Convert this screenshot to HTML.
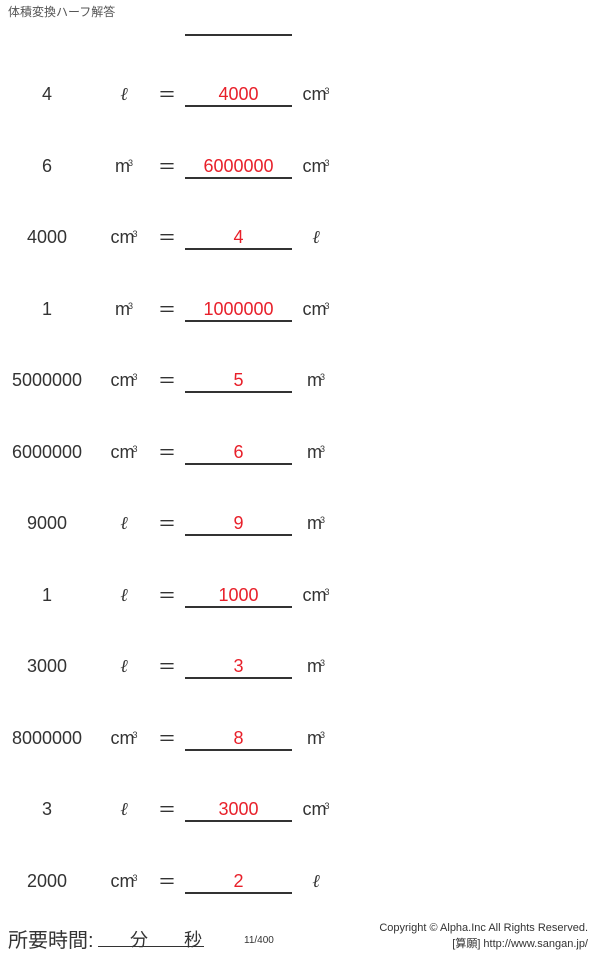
<!DOCTYPE html>
<html><head><meta charset="utf-8"><style>
body{margin:0;width:600px;height:954px;background:#fff;position:relative;font-family:"Liberation Sans","Noto Sans CJK JP",sans-serif;color:#333;overflow:hidden}
.t{position:absolute;font-size:18px;line-height:20px;text-align:center;white-space:nowrap}
.n{left:0;width:94px}
.u{left:100px;width:48px}
.e{left:152px;width:30px;transform:scaleX(1.5)}
.a{left:185px;width:107px;color:#e8202a}
.r{left:294px;width:44px}
.ln{position:absolute;left:185px;width:107px;height:2px;background:#333}
sup{font-size:9px;position:relative;top:-3px;vertical-align:top;margin-left:-2px}
.l{font-family:"DejaVu Serif",serif;font-style:italic}
</style></head><body>
<div style="position:absolute;left:8px;top:3px;font-size:12px;color:#555">体積変換ハーフ解答</div>
<div class="ln" style="top:34px"></div>
<div id="rows"></div>
<div style="position:absolute;left:8px;top:924px;font-size:20px;color:#333">所要時間:</div>
<div style="position:absolute;left:98px;top:946px;width:106px;height:1px;background:#333"></div>
<div style="position:absolute;left:130px;top:926px;font-size:18px;color:#333">分</div>
<div style="position:absolute;left:184px;top:926px;font-size:18px;color:#333">秒</div>
<div style="position:absolute;left:244px;top:935px;font-size:10px;color:#333">11/400</div>
<div style="position:absolute;right:12px;top:920px;font-size:11px;color:#333;text-align:right;line-height:16px">Copyright © Alpha.Inc All Rights Reserved.<br>[算願] http://www.sangan.jp/</div>
<script>
var d=[["4","l","4000","c"],["6","m","6000000","c"],["4000","c","4","l"],["1","m","1000000","c"],["5000000","c","5","m"],["6000000","c","6","m"],["9000","l","9","m"],["1","l","1000","c"],["3000","l","3","m"],["8000000","c","8","m"],["3","l","3000","c"],["2000","c","2","l"]];
function u(x){return x=="l"?'<span class="l">ℓ</span>':x=="c"?'cm<sup>3</sup>':'m<sup>3</sup>';}
var h="";
d.forEach(function(r,i){var y=84+i*71.5;
h+='<div class="t n" style="top:'+y+'px">'+r[0]+'</div><div class="t u" style="top:'+y+'px">'+u(r[1])+'</div><div class="t e" style="top:'+y+'px">=</div><div class="t a" style="top:'+y+'px">'+r[2]+'</div><div class="ln" style="top:'+(y+21)+'px"></div><div class="t r" style="top:'+y+'px">'+u(r[3])+'</div>';});
document.getElementById("rows").innerHTML=h;
</script>
</body></html>
